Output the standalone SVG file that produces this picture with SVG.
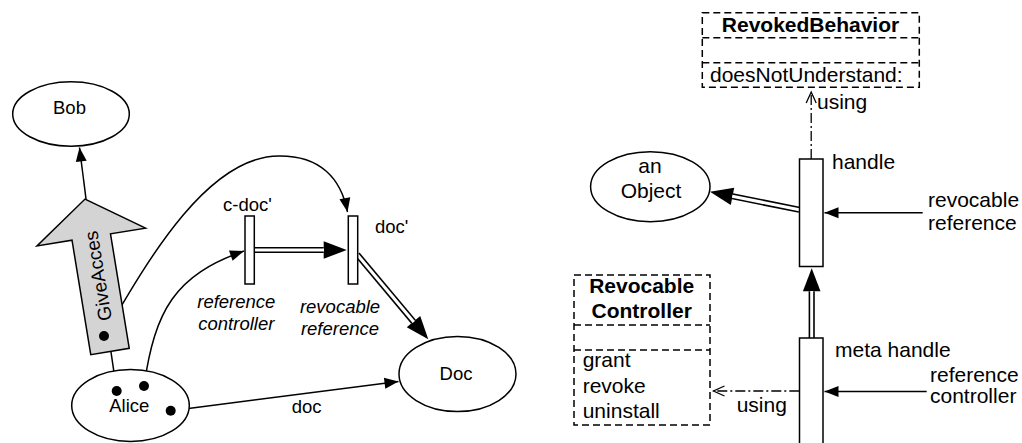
<svg xmlns="http://www.w3.org/2000/svg" width="1022" height="443" viewBox="0 0 1022 443">
<style>
  text { font-family: "Liberation Sans", Arial, Helvetica, sans-serif; fill: #000; }
  .l { font-size: 18.5px; }
  .r { font-size: 21px; }
  .it { font-style: italic; }
  .b { font-weight: bold; }
  .mid { text-anchor: middle; }
  .shape { fill: #fff; stroke: #000; stroke-width: 1.5; }
  .dash { fill: none; stroke: #000; stroke-width: 1.5; stroke-dasharray: 7,4; }
  .line { fill: none; stroke: #000; stroke-width: 1.5; }
  .arr { fill: none; stroke: #000; stroke-width: 1.5; marker-end: url(#head); }
  .dbl { fill: none; stroke: #000; stroke-width: 6.2; marker-end: url(#dhead); }
  .dblin { fill: none; stroke: #fff; stroke-width: 3; }
  .use { fill: none; stroke: #000; stroke-width: 1.3; stroke-dasharray: 10,3,2,3; marker-end: url(#open); }
  .dot { fill: #000; }
</style>
<defs>
  <marker id="head" markerUnits="userSpaceOnUse" markerWidth="16" markerHeight="13" refX="14" refY="5.5" orient="auto" overflow="visible">
    <path d="M0,0 L14,5.5 L0,11 z" fill="#000"/>
  </marker>
  <marker id="dhead" markerUnits="userSpaceOnUse" markerWidth="25" markerHeight="20" refX="0" refY="8.8" orient="auto" overflow="visible">
    <path d="M0,0 L23,8.8 L0,17.6 z" fill="#000"/>
  </marker>
  <marker id="open" markerUnits="userSpaceOnUse" markerWidth="14" markerHeight="12" refX="11" refY="5" orient="auto" overflow="visible">
    <path d="M0,0 L11,5 L0,10" fill="none" stroke="#000" stroke-width="1.3"/>
  </marker>
</defs>

<g id="connectors">
  <!-- left -->
  <path class="arr" d="M86,199 L79.5,147.5"/>
  <path class="line" d="M116.7,391 L111,352"/>
  <path class="arr" d="M104,336 C150,255 210,155 280,156 C320,156 341,178 347.5,212"/>
  <path class="arr" d="M144,386 C155,310 175,275 244,251"/>
  <path class="arr" d="M171,410.7 L398.5,381.5"/>
  <path class="dbl" d="M254.5,250 L323.7,250"/>
  <path class="dblin" d="M254.5,250 L324,250"/>
  <path class="dbl" d="M357.2,254.5 L413.5,321.7"/>
  <path class="dblin" d="M357.2,254.5 L413.8,322"/>
  <!-- right -->
  <path class="dbl" d="M799.3,209.7 L732.5,196.3"/>
  <path class="dblin" d="M799.3,209.7 L732.2,196.2"/>
  <path class="dbl" d="M811.7,338 L811.7,291.3"/>
  <path class="dblin" d="M811.7,338 L811.7,291"/>
  <path class="arr" d="M922.7,212.7 L824.5,212.7"/>
  <path class="arr" d="M926.7,391.5 L824.5,391.5"/>
  <path class="use" d="M811.2,159 L811.2,92"/>
  <path class="use" d="M799.3,391 L713.5,391"/>
  <text class="l" x="306.7" y="413.3" text-anchor="middle">doc</text>
  <text class="r" x="817" y="109">using</text>
  <text class="r" x="736.7" y="411.7">using</text>
</g>

<g id="bob">
  <ellipse class="shape" cx="71" cy="114" rx="58.3" ry="32.2"/>
  <text class="l mid" x="69.5" y="114">Bob</text>
</g>

<g id="giveAcces" transform="translate(110,351.5) rotate(-99.3)">
  <polygon points="0,-19.5 116,-19.5 116,-55 154.5,0 116,55 116,19.5 0,19.5" fill="#d4d4d4" stroke="#000" stroke-width="1.5"/>
  <text class="mid" x="76.5" y="7" style="font-size:19px">GiveAcces</text>
</g>

<g id="alice">
  <ellipse class="shape" cx="130.5" cy="405.5" rx="58.8" ry="36"/>
  <text class="l mid" x="129.3" y="412.3">Alice</text>
  <circle class="dot" cx="116.7" cy="391" r="5"/>
  <circle class="dot" cx="144" cy="386" r="5"/>
  <circle class="dot" cx="170.7" cy="410.7" r="5"/>
</g>
<circle class="dot" cx="104" cy="336" r="5"/>

<g id="doc">
  <ellipse class="shape" cx="457.5" cy="374" rx="58.5" ry="37.5"/>
  <text class="l mid" x="456" y="380">Doc</text>
</g>

<g id="cdoc">
  <rect class="shape" x="245" y="216" width="9.3" height="68"/>
  <text class="l mid" x="247.5" y="211">c-doc'</text>
  <text class="l it mid" x="236.3" y="308.3">reference</text>
  <text class="l it mid" x="236.3" y="330">controller</text>
</g>

<g id="docPrime">
  <rect class="shape" x="348.3" y="216" width="9.4" height="68"/>
  <text class="l" x="375" y="233">doc'</text>
  <text class="l it mid" x="340" y="312.7">revocable</text>
  <text class="l it mid" x="340" y="335">reference</text>
</g>

<g id="revokedBehavior">
  <rect class="dash" x="702.3" y="12.7" width="217" height="74.6"/>
  <line class="dash" x1="702.3" y1="37.7" x2="919.3" y2="37.7"/>
  <line class="dash" x1="702.3" y1="62.7" x2="919.3" y2="62.7"/>
  <text class="r b mid" x="810.5" y="31.7">RevokedBehavior</text>
  <text class="r" x="710" y="81.7">doesNotUnderstand:</text>
</g>

<g id="anObject">
  <ellipse class="shape" cx="650.3" cy="186.7" rx="59.7" ry="35"/>
  <text class="r mid" x="650" y="173.3">an</text>
  <text class="r mid" x="651" y="198.3">Object</text>
</g>

<g id="handle">
  <rect class="shape" x="799.5" y="159" width="23.5" height="107.5"/>
  <text class="r" x="832" y="168.5">handle</text>
  <text class="r" x="928" y="206.7">revocable</text>
  <text class="r" x="928" y="230">reference</text>
</g>

<g id="revocableController">
  <rect class="dash" x="574" y="275" width="136" height="150"/>
  <line class="dash" x1="574" y1="325" x2="710" y2="325"/>
  <line class="dash" x1="574" y1="350" x2="710" y2="350"/>
  <text class="r b mid" x="641.7" y="293.3">Revocable</text>
  <text class="r b mid" x="641.7" y="318.3">Controller</text>
  <text class="r" x="582.7" y="367">grant</text>
  <text class="r" x="582.7" y="393">revoke</text>
  <text class="r" x="582.7" y="418">uninstall</text>
</g>

<g id="metaHandle">
  <rect class="shape" x="799.5" y="338" width="23.5" height="115"/>
  <text class="r" x="835" y="356.7">meta handle</text>
  <text class="r" x="930" y="381.7">reference</text>
  <text class="r" x="930" y="403.3">controller</text>
</g>
</svg>
